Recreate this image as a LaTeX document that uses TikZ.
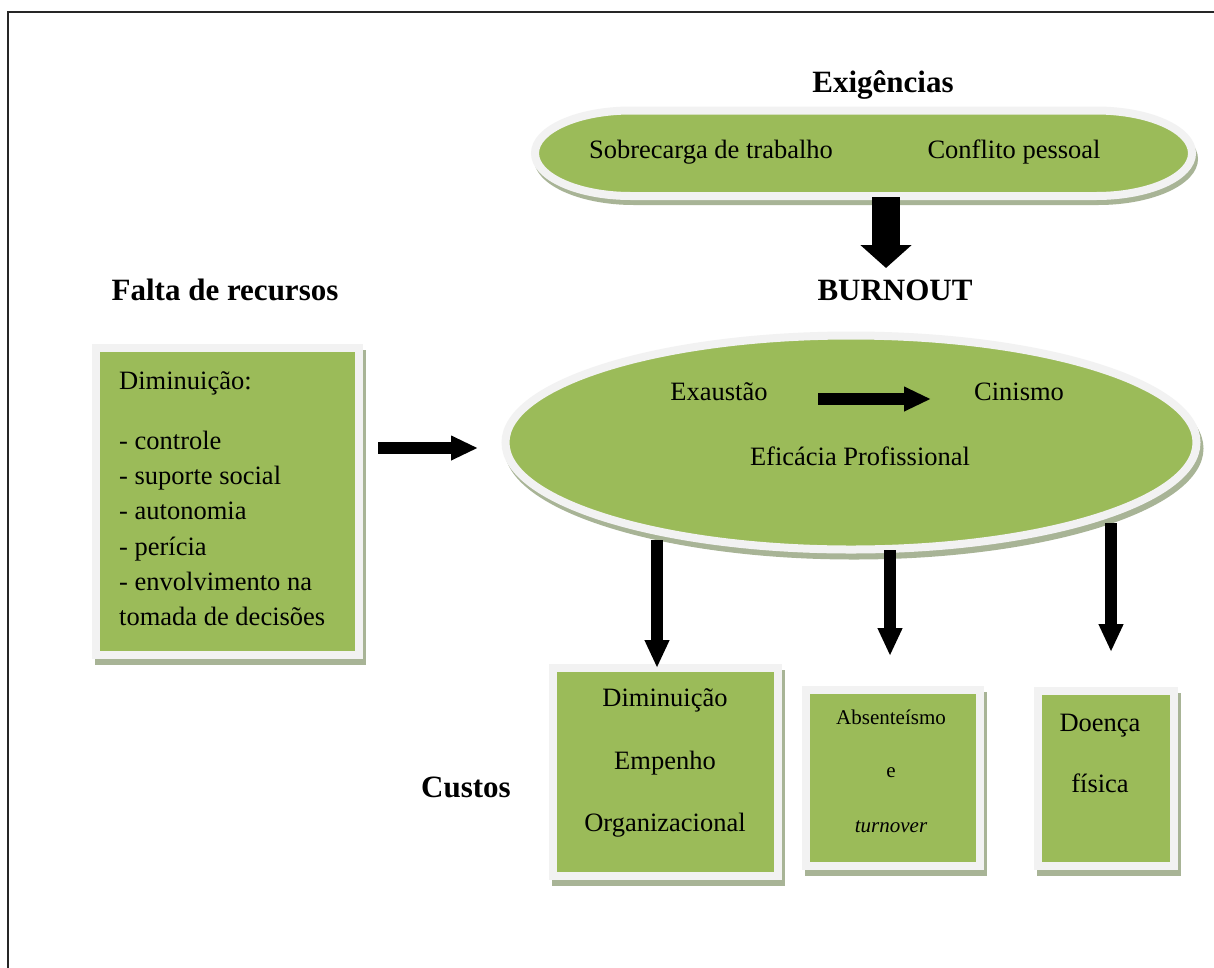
\documentclass[tikz,border=0pt]{standalone}
\usepackage{fontspec}
\setmainfont{Liberation Serif}
\usetikzlibrary{arrows.meta,shapes.geometric}
\definecolor{accgreen}{HTML}{9BBB59}
\definecolor{rimwhite}{HTML}{F2F2F2}
\definecolor{shadowc}{HTML}{A8B496}
\begin{document}
\begin{tikzpicture}[x=1pt,y=-1pt,
  gbox/.style={rectangle, fill=accgreen, draw=rimwhite, line width=8pt, inner sep=0pt},
  gell/.style={ellipse, fill=accgreen, draw=rimwhite, line width=8pt, inner sep=0pt},
  shadowfill/.style={fill=shadowc},
  headfont/.style={font=\fontsize{31}{37}\selectfont\bfseries, inner sep=0pt},
  bodyfont/.style={font=\fontsize{26.5}{32}\selectfont, inner sep=0pt},
  bigarrow/.style={line width=28pt, -{Triangle[width=50pt,length=23pt]}},
  blockarrow/.style={line width=12pt, -{Triangle[width=23pt,length=27pt]}},
  vertarrow/.style={line width=12pt, -{Triangle[width=23pt,length=28pt]}}]
\useasboundingbox (0,0) rectangle (1214,967);
\fill[white] (0,0) rectangle (1214,967);
% frame
\draw[line width=2.6pt, black!85] (8,975) -- (8,12) -- (1222,12);

% headings
\node[headfont, anchor=base] (exigt) at (883,92) {Exigências};
\node[headfont, anchor=base] (burnt) at (895,300) {BURNOUT};
\node[headfont, anchor=base] (faltat) at (225,300) {Falta de recursos};
\node[headfont, anchor=base] (custt) at (466,797) {Custos};

% top stadium (Exigencias)
\fill[shadowfill] (634,113) -- (1098,113) arc[start angle=-90,end angle=90,x radius=100,y radius=46]
   -- (634,205) arc[start angle=90,end angle=270,x radius=100,y radius=46] -- cycle;
\path[fill=accgreen, draw=rimwhite, line width=8pt] (631,110.5) -- (1096,110.5)
   arc[start angle=-90,end angle=90,x radius=96,y radius=42.75]
   -- (631,196) arc[start angle=90,end angle=270,x radius=96,y radius=42.75] -- cycle;
\node[inner sep=0pt, minimum width=657pt, minimum height=85.5pt] (exig) at (863.5,153.25) {};
\node[bodyfont, anchor=base] (sobt) at (711,158) {Sobrecarga de trabalho};
\node[bodyfont, anchor=base] (conft) at (1014,158) {Conflito pessoal};

% burnout ellipse
\fill[shadowfill] (854,448.5) ellipse[x radius=349.5, y radius=111];
\node[gell, minimum width=691pt, minimum height=214pt] (burn) at (851,442.5) {};
\node[bodyfont, anchor=base] (exau) at (719,400) {Exaustão};
\node[bodyfont, anchor=base] (cini) at (1019,400) {Cinismo};
\node[bodyfont, anchor=base] (efic) at (860,465) {Eficácia Profissional};

% shadows of boxes
\fill[shadowfill] (95,350) rectangle (366,665);
\fill[shadowfill] (552,670) rectangle (785,886);
\fill[shadowfill] (805,692) rectangle (987,876);
\fill[shadowfill] (1037,693) rectangle (1181,876);

% left box
\node[gbox, minimum width=263pt, minimum height=307pt] (lbox) at (227.5,501.5) {};
\node[bodyfont, anchor=base west] (l1) at (119,389) {Diminuição:};
\node[bodyfont, anchor=base west] (l2) at (119,449) {- controle};
\node[bodyfont, anchor=base west] (l3) at (119,484) {- suporte social};
\node[bodyfont, anchor=base west] (l4) at (119,519) {- autonomia};
\node[bodyfont, anchor=base west] (l5) at (119,555) {- perícia};
\node[bodyfont, anchor=base west] (l6) at (119,590) {- envolvimento na};
\node[bodyfont, anchor=base west] (l7) at (119,625) {tomada de decisões};

% cost boxes
\node[gbox, minimum width=225pt, minimum height=208pt] (box1) at (665.5,772) {};
\node[gbox, minimum width=174pt, minimum height=176pt] (box2) at (893,778) {};
\node[gbox, minimum width=136pt, minimum height=175pt] (box3) at (1106,778.5) {};

\node[bodyfont, anchor=base] (b1a) at (665,706) {Diminuição};
\node[bodyfont, anchor=base] (b1b) at (665,769) {Empenho};
\node[bodyfont, anchor=base] (b1c) at (665,831) {Organizacional};

\node[font=\fontsize{21}{25}\selectfont, inner sep=0pt, anchor=base] (b2a) at (891,724) {Absenteísmo};
\node[font=\fontsize{21}{25}\selectfont, inner sep=0pt, anchor=base] (b2b) at (891,777) {e};
\node[font=\fontsize{21}{25}\selectfont\itshape, inner sep=0pt, anchor=base] (b2c) at (891,832) {turnover};

\node[bodyfont, anchor=base] (b3a) at (1100,731) {Doença};
\node[bodyfont, anchor=base] (b3b) at (1100,792) {física};

% arrows
\coordinate (t1) at (886,197);
\coordinate (t2) at (886,268);
\draw[bigarrow] (t1) -- (t2);
\coordinate (h1) at (378,448);
\coordinate (h2) at (478,448);
\draw[blockarrow] (h1) -- (h2);
\coordinate (i1) at (818,399);
\coordinate (i2) at (931,399);
\draw[blockarrow] (i1) -- (i2);
\coordinate (d1s) at (657,540);
\coordinate (d1e) at (657,668);
\draw[vertarrow] (d1s) -- (d1e);
\coordinate (d2s) at (890,550);
\coordinate (d2e) at (890,656);
\draw[vertarrow] (d2s) -- (d2e);
\coordinate (d3s) at (1111,523);
\coordinate (d3e) at (1111,652);
\draw[vertarrow] (d3s) -- (d3e);
\end{tikzpicture}
\end{document}
